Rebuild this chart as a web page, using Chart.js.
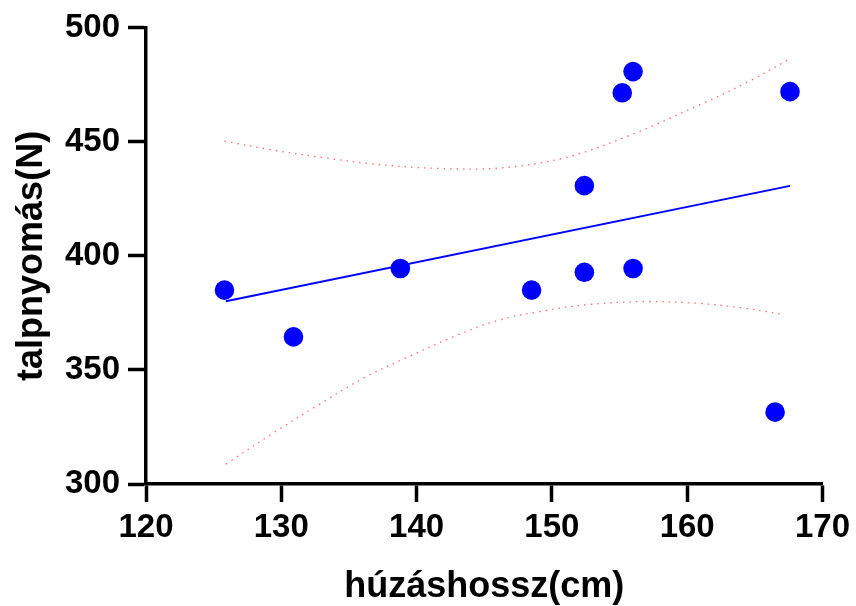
<!DOCTYPE html>
<html>
<head>
<meta charset="utf-8">
<script src="https://cdn.jsdelivr.net/npm/chart.js@4.4.0/dist/chart.umd.min.js"></script>
<style>
    html, body { margin: 0; padding: 0; background: #fff; }
    #wrap { width: 856px; height: 606px; }
</style>
</head>
<body>
<div id="wrap"><canvas id="chart"></canvas></div>
<script>
// measured points: húzáshossz (cm) vs talpnyomás (N)
const pullLength = [125.8, 130.9, 138.8, 148.5, 152.4, 152.4, 155.2, 156.0, 156.0, 166.5, 167.6];
const footPressure = [385, 364.5, 394.5, 385, 430.8, 392.8, 471.5, 480.8, 394.5, 331.5, 472];

// regression line endpoints
const fitX = [125.9, 167.6];
const fitY = [380.1, 430.7];

// 95% confidence band
const upperX = [125.8, 129.4, 133.1, 136.8, 141.4, 146.1, 151.0, 155.9, 160.9, 164.5, 167.5];
const upperY = [450.3, 446.4, 443.1, 440.3, 438.4, 438.5, 443.1, 453.2, 466.2, 476.3, 486.1];
const lowerX = [125.9, 129.5, 132.8, 136.1, 139.4, 142.7, 146.0, 149.3, 152.6, 156.8, 160.8, 164.1, 167.2];
const lowerY = [308.7, 322.7, 334.9, 346.5, 355.8, 364.5, 371.7, 375.8, 378.6, 380.0, 379.2, 377.2, 374.2];

const xTicks = [120, 130, 140, 150, 160, 170];
const yTicks = [300, 350, 400, 450, 500];

const toXY = (xs, ys) => xs.map((x, i) => ({ x: x, y: ys[i] }));

const bandStyle = {
    showLine: true,
    pointRadius: 0,
    borderColor: "rgba(255, 100, 110, 0.95)",
    borderWidth: 1.3,
    borderDash: [1.5, 5],
    tension: 0.35,
    fill: false
};

const axisFont = { family: "'Liberation Sans', Arial, sans-serif", weight: "bold" };

const ctx = document.getElementById("chart").getContext("2d");
new Chart(ctx, {
    type: "scatter",
    data: {
        datasets: [
            Object.assign({ data: toXY(upperX, upperY) }, bandStyle),
            Object.assign({ data: toXY(lowerX, lowerY) }, bandStyle),
            {
                data: toXY(fitX, fitY),
                showLine: true,
                pointRadius: 0,
                borderColor: "#0000ff",
                borderWidth: 2
            },
            {
                data: toXY(pullLength, footPressure),
                pointRadius: 9.8,
                pointHoverRadius: 9.8,
                backgroundColor: "#0000ff",
                borderWidth: 0
            }
        ]
    },
    options: {
        responsive: true,
        maintainAspectRatio: false,
        animation: false,
        events: [],
        layout: { padding: { top: 22, right: 33, bottom: 0, left: 0 } },
        plugins: { legend: { display: false }, tooltip: { enabled: false } },
        scales: {
            x: {
                type: "linear",
                min: 120,
                max: 170,
                afterBuildTicks: s => { s.ticks = xTicks.map(v => ({ value: v })); },
                afterFit: s => { s.height = 122; },
                border: { display: true, color: "#000", width: 3.5 },
                grid: { drawOnChartArea: false, drawTicks: true, tickLength: 18, tickWidth: 3.5, tickColor: "#000" },
                ticks: { color: "#000", padding: 6, font: Object.assign({ size: 33 }, axisFont) },
                title: {
                    display: true,
                    text: "húzáshossz(cm)",
                    color: "#000",
                    padding: { top: 0, bottom: 1 },
                    font: Object.assign({ size: 36, lineHeight: 1 }, axisFont)
                }
            },
            y: {
                type: "linear",
                min: 300,
                max: 500,
                afterBuildTicks: s => { s.ticks = yTicks.map(v => ({ value: v })); },
                afterFit: s => { s.width = 146; },
                border: { display: true, color: "#000", width: 3.5 },
                grid: { drawOnChartArea: false, drawTicks: true, tickLength: 18, tickWidth: 3.5, tickColor: "#000" },
                ticks: { color: "#000", padding: 8, font: Object.assign({ size: 33 }, axisFont) },
                title: {
                    display: true,
                    text: "talpnyomás(N)",
                    color: "#000",
                    padding: { top: 14, bottom: 0 },
                    font: Object.assign({ size: 36, lineHeight: 1 }, axisFont)
                }
            }
        }
    }
});
</script>
</body>
</html>
